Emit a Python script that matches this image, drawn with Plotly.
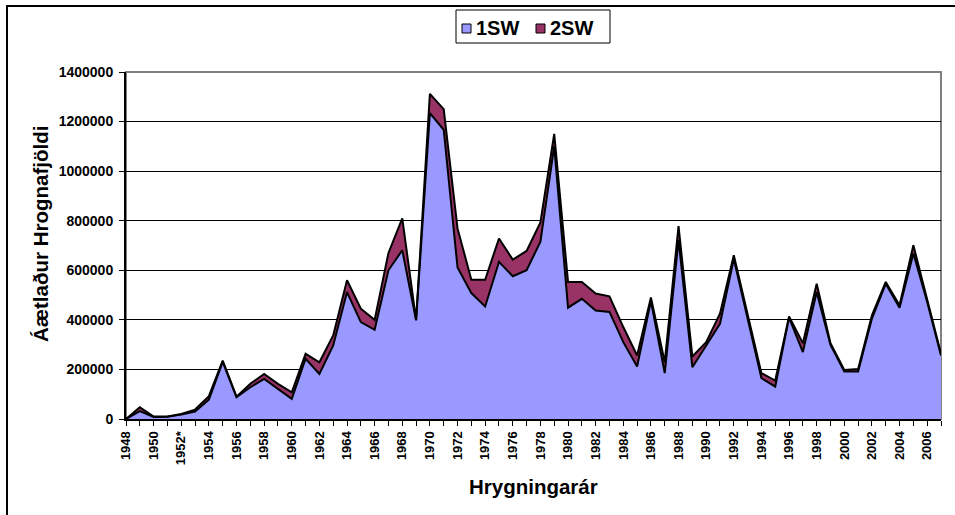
import plotly.graph_objects as go

years = list(range(1948, 2008))
one_sw = [0, 32000, 8000, 9000, 18000, 30000, 78000, 230000, 88000, 128000,
          162000, 121000, 81000, 243000, 182000, 297000, 512000, 391000, 360000, 600000,
          681000, 398000, 1234000, 1167000, 611000, 508000, 454000, 634000, 576000, 600000,
          715000, 1100000, 449000, 485000, 438000, 432000, 310000, 212000, 476000, 185000,
          722000, 209000, 297000, 384000, 645000, 405000, 165000, 131000, 409000, 270000,
          512000, 299000, 192000, 192000, 405000, 546000, 449000, 668000, 472000, 256000]
two_sw = [0, 15000, 2000, 1000, 2000, 8000, 14000, 6000, 2000, 14000,
          20000, 21000, 27000, 20000, 47000, 40000, 48000, 54000, 40000, 70000,
          128000, 2000, 78000, 83000, 158000, 54000, 108000, 94000, 67000, 78000,
          78000, 50000, 104000, 68000, 68000, 63000, 61000, 44000, 14000, 44000,
          56000, 43000, 13000, 41000, 16000, 13000, 20000, 24000, 5000, 36000,
          34000, 7000, 6000, 10000, 13000, 7000, 10000, 33000, 9000, 7000]
tick_years = list(range(1948, 2008, 2))
tick_labels = [("1952*" if y == 1952 else str(y)) for y in tick_years]
series_names = ["1SW", "2SW"]
series_colors = ["#9999FF", "#993366"]

FONT = "Arial, 'Liberation Sans', sans-serif"

fig = go.Figure()
for name, vals, col in zip(series_names, [one_sw, two_sw], series_colors):
    fig.add_trace(go.Scatter(x=years, y=vals, name=name, mode="lines",
                             stackgroup="one", fillcolor=col, showlegend=False,
                             hoverinfo="skip",
                             line=dict(color="black", width=2)))

W, H = 955, 515
L, R, T, B = 126, 14, 72, 96
pw, ph = W - L - R, H - T - B

def px(x):
    return (x - L) / pw

def py(y):
    return (H - B - y) / ph

fig.update_layout(
    width=W, height=H,
    margin=dict(l=L, r=R, t=T, b=B),
    paper_bgcolor="white", plot_bgcolor="white",
    font=dict(family=FONT, color="black"),
    showlegend=False,
    xaxis=dict(range=[1948, 2007], tickmode="array", tickvals=tick_years,
               ticktext=tick_labels, tickangle=-90, ticks="outside", ticklen=5,
               tickcolor="black", showline=True, linecolor="black", linewidth=2,
               showgrid=False, zeroline=False,
               tickfont=dict(size=13, family=FONT, weight="bold"),
               minor=dict(dtick=1, tick0=1948, ticks="outside", ticklen=5,
                          tickcolor="black", showgrid=False)),
    yaxis=dict(range=[0, 1400000], dtick=200000, tickformat="d", ticks="outside",
               ticklen=5, tickcolor="black", showline=True, linecolor="black",
               linewidth=2, showgrid=True, gridcolor="black", gridwidth=1,
               zeroline=False, ticklabelstandoff=3,
               tickfont=dict(size=14, family=FONT, weight="bold")),
)

# plot area border (gray) and outer chart border
fig.add_shape(type="rect", xref="paper", yref="paper", x0=0, x1=1, y0=0, y1=1,
              line=dict(color="#808080", width=2), layer="below")
fig.add_shape(type="rect", xref="paper", yref="paper",
              x0=px(7), x1=px(W + 20), y0=py(H + 20), y1=py(6),
              line=dict(color="black", width=2))

# legend box drawn by hand (swatch + text tight like the original)
fig.add_shape(type="rect", xref="paper", yref="paper",
              x0=px(456), x1=px(610), y0=py(43), y1=py(10),
              line=dict(color="black", width=1), fillcolor="white")
leg_x = [462, 536]
for name, col, lx in zip(series_names, series_colors, leg_x):
    fig.add_shape(type="rect", xref="paper", yref="paper",
                  x0=px(lx), x1=px(lx + 9), y0=py(33), y1=py(24),
                  line=dict(color="black", width=1), fillcolor=col)
    fig.add_annotation(text=name, xref="paper", yref="paper",
                       x=px(lx + 12), y=py(28.5), xanchor="left", yanchor="middle",
                       showarrow=False,
                       font=dict(size=20, family=FONT, weight="bold"))

fig.add_annotation(text="Hrygningarár", xref="paper", yref="paper",
                   x=0.5, y=py(486), xanchor="center", yanchor="middle",
                   showarrow=False, font=dict(size=20.5, family=FONT, weight="bold"))
fig.add_annotation(text="Áætlaður Hrognafjöldi", xref="paper", yref="paper",
                   x=px(40), y=py(234), xanchor="center", yanchor="middle",
                   textangle=-90, showarrow=False,
                   font=dict(size=20.5, family=FONT, weight="bold"))

fig.write_html("out.html", config={"displayModeBar": False},
               post_script="document.body.style.margin='0';")
